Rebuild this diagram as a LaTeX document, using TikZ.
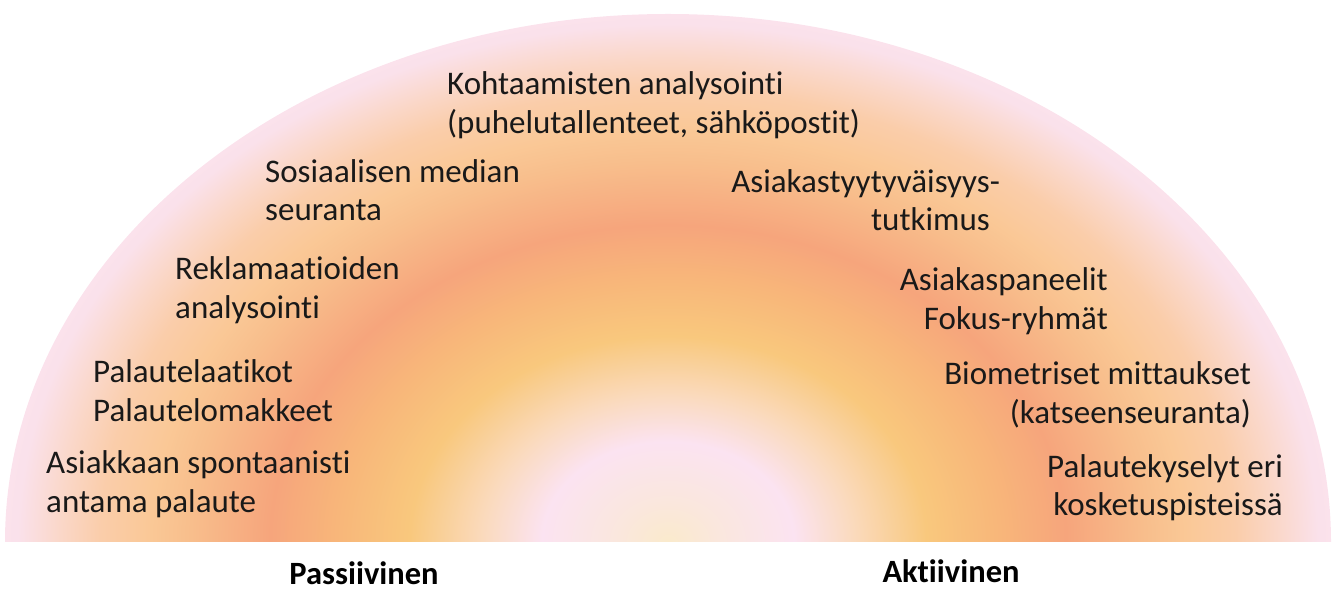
\documentclass[tikz,border=0pt]{standalone}
\usepackage{fontspec}
\setmainfont{Carlito}[Ligatures=NoCommon]

% warm halo: pale centre, pink ring, yellow, salmon, peach, pink rim
% (the shaded path's edge sits at 25bp)
\pgfdeclareradialshading{halo}{\pgfpoint{0bp}{0bp}}{%
  rgb(0bp)=(0.980,0.918,0.800);
  rgb(2bp)=(0.980,0.905,0.870);
  rgb(4.75bp)=(0.984,0.890,0.945);
  rgb(7bp)=(0.980,0.855,0.740);
  rgb(9.75bp)=(0.976,0.784,0.490);
  rgb(12.5bp)=(0.972,0.714,0.478);
  rgb(15bp)=(0.965,0.647,0.486);
  rgb(18bp)=(0.972,0.745,0.549);
  rgb(19.5bp)=(0.980,0.784,0.588);
  rgb(21.4bp)=(0.980,0.804,0.667);
  rgb(22.9bp)=(0.980,0.843,0.784);
  rgb(24.5bp)=(0.980,0.882,0.920);
  rgb(25bp)=(0.984,0.886,0.925);
  rgb(50bp)=(0.984,0.886,0.925)}

\begin{document}
\begin{tikzpicture}[x=1pt,y=1pt,
  lbl/.style={font=\fontsize{33}{38.5}\selectfont, inner sep=0pt, text=black!90},
  lft/.style={lbl, align=left, anchor=west},
  rgt/.style={lbl, align=right, anchor=east},
  pole/.style={font=\fontsize{32.5}{36}\selectfont\bfseries, inner sep=0pt, text=black, anchor=base}]

\useasboundingbox (0,0) rectangle (1334,589);

% half-ellipse filled with the halo shading centred on its base
\coordinate (base) at (668,47);
\begin{scope}
  \clip (5,47) arc[start angle=180, end angle=0, x radius=663, y radius=528] -- cycle;
  \shade[shading=halo] (base) ellipse[x radius=663, y radius=528];
\end{scope}

% passive methods (left)
\node[lft] (kohtaamiset) at (447,484) {Kohtaamisten analysointi\\(puhelutallenteet, sähköpostit)};
\node[lft] (some) at (265,399) {Sosiaalisen median\\seuranta};
\node[lft] (reklamaatiot) at (175,299) {Reklamaatioiden\\analysointi};
\node[lft] (laatikot) at (93,198.5) {Palautelaatikot\\Palautelomakkeet};
\node[lft] (spontaani) at (46,105) {Asiakkaan spontaanisti\\antama palaute};

% active methods (right)
\node[rgt] (tyytyvaisyys) at (1000,389) {Asiakastyytyväisyys-\\tutkimus\hspace*{10pt}};
\node[rgt] (paneelit) at (1108,288) {Asiakaspaneelit\\Fokus-ryhmät};
\node[rgt] (biometriset) at (1251,194) {Biometriset mittaukset\\(katseenseuranta)};
\node[rgt] (kyselyt) at (1283,101.5) {Palautekyselyt eri\\kosketuspisteissä};

% axis ends
\node[pole] (passiivinen) at (364,4) {Passiivinen};
\node[pole] (aktiivinen) at (951,6.5) {Aktiivinen};
\end{tikzpicture}
\end{document}
